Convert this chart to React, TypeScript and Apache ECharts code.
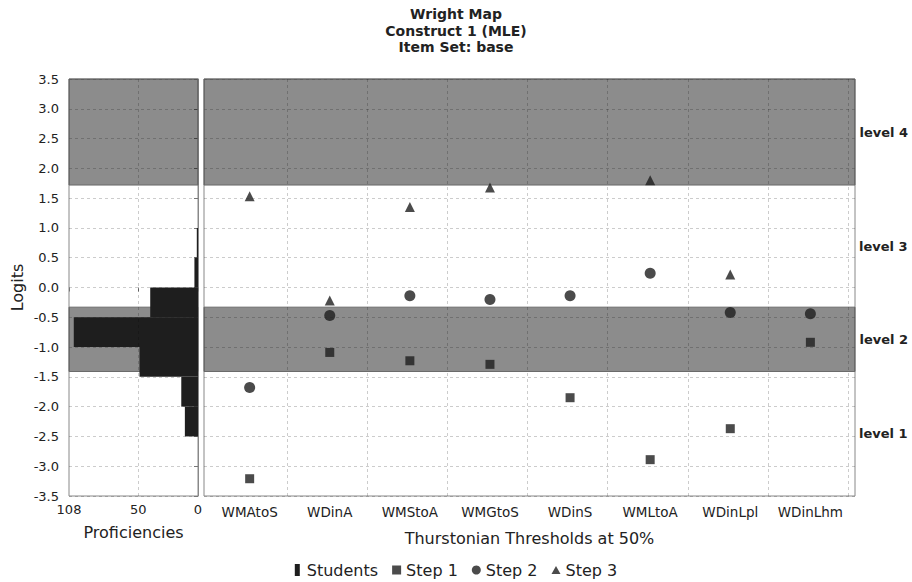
import React, { useEffect, useRef } from "react";
import * as echarts from "echarts";

const categories = ["WMAtoS", "WDinA", "WMStoA", "WMGtoS", "WDinS", "WMLtoA", "WDinLpl", "WDinLhm"];
const step1 = [-3.21, -1.09, -1.23, -1.29, -1.85, -2.89, -2.37, -0.92];
const step2 = [-1.68, -0.47, -0.14, -0.2, -0.14, 0.24, -0.42, -0.44];
const step3 = [1.53, -0.22, 1.35, 1.68, null, 1.8, 0.22, null];

const binLower = [-2.5, -2.0, -1.5, -1.0, -0.5, 0.0, 0.5];
const binWidth = 0.5;
const studentCounts = [11, 14, 49, 104, 40, 3, 1];

const levelNames = ["level 1", "level 2", "level 3", "level 4"];
const levelBounds = [-3.5, -1.41, -0.33, 1.72, 3.5];
const levelShaded = [false, true, false, true];

const proficiencyTicks = [0, 50, 108];

const FONT = "DejaVu Sans";
const TEXT = "#222";
const GRIDLINE = "rgba(0,0,0,0.2)";

export default function App() {
  const ref = useRef<HTMLDivElement>(null);
  useEffect(() => {
    const chart = echarts.init(ref.current!, null, { renderer: "svg" });
    const bandData = (withLabels: boolean) =>
      levelNames.map((n, i) => [
        {
          name: n,
          yAxis: levelBounds[i],
          itemStyle: levelShaded[i]
            ? { color: "rgba(0,0,0,0.45)", borderColor: "#6a6a6a", borderWidth: 1 }
            : { color: "rgba(0,0,0,0)", borderWidth: 0 },
          label: { show: withLabels },
        },
        { yAxis: levelBounds[i + 1] },
      ]);
    const pts = (arr: (number | null)[]) => arr.map((v, i) => [i + 1, v]);
    const option: any = {
      animation: false,
      textStyle: { fontFamily: FONT },
      title: {
        text: "Wright Map\nConstruct 1 (MLE)\nItem Set: base",
        left: "center",
        top: 1,
        textStyle: { fontFamily: FONT, fontSize: 14, fontWeight: "bold", color: TEXT, lineHeight: 16.5 },
      },
      legend: {
        top: 557,
        left: "center",
        itemGap: 14,
        itemWidth: 9,
        itemHeight: 12,
        textStyle: { fontFamily: FONT, fontSize: 16, color: TEXT },
        data: [
          { name: "Students", icon: "path://M0,0H5V12H0Z" },
          { name: "Step 1", icon: "path://M0,0H8V8H0Z" },
          { name: "Step 2", icon: "circle" },
          { name: "Step 3", icon: "path://M4,0L8,7H0Z" },
        ],
      },
      grid: [
        { left: 69, width: 129, top: 79, height: 417, show: true, borderColor: "#888", borderWidth: 1, backgroundColor: "#fff" },
        { left: 204, width: 651, top: 79, height: 417, show: true, borderColor: "#888", borderWidth: 1, backgroundColor: "#fff" },
      ],
      xAxis: [
        {
          gridIndex: 0,
          type: "value",
          min: 0,
          max: 108,
          inverse: true,
          name: "Proficiencies",
          nameLocation: "middle",
          nameGap: 28,
          nameTextStyle: { fontFamily: FONT, fontSize: 16, color: TEXT },
          axisLine: { show: false },
          axisTick: { show: true, length: 4, lineStyle: { color: "#777" }, customValues: proficiencyTicks },
          axisLabel: { fontFamily: FONT, fontSize: 13, color: TEXT, margin: 7, customValues: proficiencyTicks, showMinLabel: true, showMaxLabel: true },
          splitLine: { show: false },
        },
        {
          gridIndex: 1,
          type: "value",
          min: 0.43,
          max: 8.557,
          name: "Thurstonian Thresholds at 50%",
          nameLocation: "middle",
          nameGap: 34,
          nameTextStyle: { fontFamily: FONT, fontSize: 16, color: TEXT },
          axisLine: { show: false },
          axisTick: { show: false },
          axisLabel: {
            fontFamily: FONT,
            fontSize: 13.5,
            color: TEXT,
            margin: 9,
            customValues: categories.map((_, i) => i + 1),
            formatter: (v: number) => categories[Math.round(v) - 1] ?? "",
          },
          splitLine: { show: false },
        },
      ],
      yAxis: [
        {
          gridIndex: 0,
          type: "value",
          min: -3.5,
          max: 3.5,
          interval: 0.5,
          name: "Logits",
          nameLocation: "middle",
          nameGap: 44,
          nameTextStyle: { fontFamily: FONT, fontSize: 16, color: TEXT },
          axisLine: { show: true, lineStyle: { color: "#888" } },
          axisTick: { show: true, length: 4, lineStyle: { color: "#777" } },
          axisLabel: { fontFamily: FONT, fontSize: 13, color: TEXT, margin: 10, formatter: (v: number) => v.toFixed(1) },
          splitLine: { show: true, lineStyle: { color: GRIDLINE, type: [3, 3] } },
        },
        {
          gridIndex: 1,
          type: "value",
          min: -3.5,
          max: 3.5,
          interval: 0.5,
          axisLine: { show: false },
          axisTick: { show: false },
          axisLabel: { show: false },
          splitLine: { show: true, lineStyle: { color: GRIDLINE, type: [3, 3] } },
        },
      ],
      series: [
        {
          type: "line",
          xAxisIndex: 0,
          yAxisIndex: 0,
          data: [],
          z: 1,
          silent: true,
          markArea: { silent: true, data: bandData(false) },
          markLine: {
            silent: true,
            symbol: "none",
            label: { show: false },
            lineStyle: { color: GRIDLINE, type: [3, 3], width: 1 },
            data: [{ xAxis: 50 }],
          },
        },
        {
          type: "line",
          xAxisIndex: 1,
          yAxisIndex: 1,
          data: [],
          z: 1,
          silent: true,
          markArea: {
            silent: true,
            label: { show: true, position: "right", distance: 4, fontFamily: FONT, fontSize: 13, fontWeight: "bold", color: TEXT },
            data: bandData(true),
          },
          markLine: {
            silent: true,
            symbol: "none",
            label: { show: false },
            lineStyle: { color: GRIDLINE, type: [3, 3], width: 1 },
            data: categories.map((_, i) => ({ xAxis: i + 1.47 })),
          },
        },
        {
          name: "Students",
          type: "custom",
          xAxisIndex: 0,
          yAxisIndex: 0,
          z: 3,
          itemStyle: { color: "#1e1e1e" },
          encode: { x: 2, y: [0, 1] },
          data: binLower.map((lo, i) => [lo, lo + binWidth, studentCounts[i]]),
          renderItem: (params: any, api: any) => {
            const lo = api.value(0);
            const hi = api.value(1);
            const c = api.value(2);
            const p1 = api.coord([c, hi]);
            const p2 = api.coord([0, lo]);
            return {
              type: "rect",
              shape: {
                x: Math.min(p1[0], p2[0]),
                y: Math.min(p1[1], p2[1]),
                width: Math.abs(p2[0] - p1[0]),
                height: Math.abs(p2[1] - p1[1]),
              },
              style: { fill: "#1e1e1e" },
            };
          },
        },
        {
          name: "Step 1",
          type: "scatter",
          xAxisIndex: 1,
          yAxisIndex: 1,
          z: 3,
          symbol: "rect",
          symbolSize: 9,
          itemStyle: { color: "#1e1e1e" },
          data: pts(step1),
        },
        {
          name: "Step 2",
          type: "scatter",
          xAxisIndex: 1,
          yAxisIndex: 1,
          z: 3,
          symbol: "circle",
          symbolSize: 11,
          itemStyle: { color: "#1e1e1e" },
          data: pts(step2),
        },
        {
          name: "Step 3",
          type: "scatter",
          xAxisIndex: 1,
          yAxisIndex: 1,
          z: 3,
          symbol: "triangle",
          symbolSize: 10,
          itemStyle: { color: "#1e1e1e" },
          data: pts(step3),
        },
      ],
    };
    chart.setOption(option);
    return () => chart.dispose();
  }, []);
  return <div ref={ref} style={{ position: "absolute", left: 0, top: 0, width: 912, height: 582 }} />;
}
